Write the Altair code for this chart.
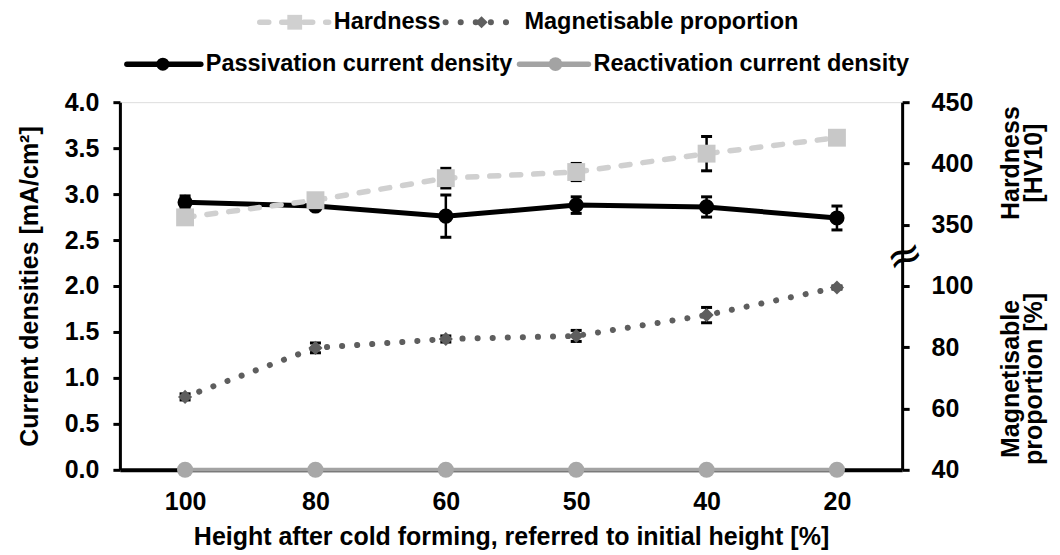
import altair as alt
import pandas as pd

# ---- data ----
categories = ["100", "80", "60", "50", "40", "20"]
passivation = [2.91, 2.87, 2.76, 2.88, 2.86, 2.74]
passivation_err = [0.07, 0.03, 0.23, 0.09, 0.11, 0.13]
reactivation = [0.0, 0.0, 0.0, 0.0, 0.0, 0.0]
hardness = [356, 370, 388, 393, 408, 421]
hardness_err = [3, 3, 8, 7, 14, 2]
magnetisable = [63.8, 79.8, 82.7, 83.7, 90.5, 99.5]
magnetisable_err = [1.0, 1.6, 1.0, 1.8, 2.5, 0.5]

# right-axis tick labels
right_ticks = [40, 60, 80, 100, 350, 400, 450]

FONT = "Liberation Sans"
FS = 25      # axis text size
LFS = 23.5   # legend text size

df = pd.DataFrame({
    "cat": categories,
    "pass": passivation,
    "pass_err": passivation_err,
    "react": reactivation,
    "hard": hardness,
    "hard_err": hardness_err,
    "mag": magnetisable,
    "mag_err": magnetisable_err,
})


def hard_map(h):
    return (h - 150) / 75.0


def mag_map(m):
    return (m - 40) / 30.0


df["pass_lo"] = df["pass"] - df["pass_err"]
df["pass_hi"] = df["pass"] + df["pass_err"]
df["hard_y"] = hard_map(df["hard"])
df["hard_lo"] = hard_map(df["hard"] - df["hard_err"])
df["hard_hi"] = hard_map(df["hard"] + df["hard_err"])
df["mag_y"] = mag_map(df["mag"])
df["mag_lo"] = mag_map(df["mag"] - df["mag_err"])
df["mag_hi"] = mag_map(df["mag"] + df["mag_err"])

right_vals = [mag_map(v) if v <= 100 else hard_map(v) for v in right_ticks]

yscale = alt.Scale(domain=[0, 4], nice=False, zero=False)
left_axis = alt.Axis(
    values=[0, 0.5, 1, 1.5, 2, 2.5, 3, 3.5, 4], format=".1f",
    tickSize=7, tickWidth=3, tickColor="black",
    domainColor="black", domainWidth=3,
    labelFont=FONT, labelFontSize=FS, labelFontWeight="bold", labelColor="black",
    labelPadding=14,
    title="Current densities [mA/cm²]", titleFont=FONT, titleFontSize=FS,
    titleFontWeight="bold", titleColor="black", titlePadding=22, grid=False,
)
x_axis = alt.Axis(
    labelAngle=0, ticks=False, domainColor="black", domainWidth=4,
    labelFont=FONT, labelFontSize=FS, labelFontWeight="bold", labelColor="black",
    labelPadding=20,
    title="Height after cold forming, referred to initial height [%]",
    titleFont=FONT, titleFontSize=FS, titleFontWeight="bold", titleColor="black",
    titlePadding=10,
)
X = alt.X("cat:N", sort=categories, scale=alt.Scale(type="point", padding=0.5), axis=x_axis)


def Y(field):
    return alt.Y(field + ":Q", scale=yscale, axis=left_axis)


base = alt.Chart(df)

react_line = base.mark_line(color="#A3A3A3", strokeWidth=4).encode(x=X, y=Y("react"))
pass_line = base.mark_line(color="black", strokeWidth=5).encode(x=X, y=Y("pass"))
mag_line = base.mark_line(color="#5E5E5E", strokeWidth=6, strokeDash=[0.1, 15],
                          strokeCap="round").encode(x=X, y=Y("mag_y"))
hard_line = base.mark_line(color="#D0D0D0", strokeWidth=5.5, strokeDash=[9, 13],
                           strokeCap="round").encode(x=X, y=Y("hard_y"))


def errbars(lo, hi):
    rule = base.mark_rule(color="black", strokeWidth=2.5).encode(x=X, y=Y(lo), y2=hi)
    t1 = base.mark_tick(color="black", thickness=3, size=11, orient="horizontal",
                        opacity=1).encode(x=X, y=Y(lo))
    t2 = base.mark_tick(color="black", thickness=3, size=11, orient="horizontal",
                        opacity=1).encode(x=X, y=Y(hi))
    return [rule, t1, t2]


err_layers = errbars("pass_lo", "pass_hi") + errbars("mag_lo", "mag_hi") + errbars("hard_lo", "hard_hi")

react_pts = base.mark_point(shape="circle", filled=True, size=260, color="#A8A8A8",
                            opacity=1).encode(x=X, y=Y("react"))
pass_pts = base.mark_point(shape="circle", filled=True, size=230, color="black",
                           opacity=1).encode(x=X, y=Y("pass"))
mag_pts = base.mark_point(shape="diamond", filled=True, size=200, color="#5E5E5E",
                          opacity=1).encode(x=X, y=Y("mag_y"))
hard_pts = base.mark_point(shape="square", filled=True, size=320, color="#C8C8C8",
                           opacity=1).encode(x=X, y=Y("hard_y"))

# ---- manual legend (two centred rows above the plot) ----
one = pd.DataFrame({"k": [0]})
leg = alt.Chart(one)
legend_layers = []


def legend_item(x0, x1, xm, y, color, width, dash, shape, size, label):
    rule_kw = dict(color=color, strokeWidth=width, strokeCap="round")
    if dash:
        rule_kw["strokeDash"] = dash
    legend_layers.append(leg.mark_rule(**rule_kw).encode(
        x=alt.value(x0), x2=alt.value(x1), y=alt.value(y)))
    legend_layers.append(leg.mark_point(shape=shape, filled=True, size=size, color=color,
                                        opacity=1).encode(x=alt.value(xm), y=alt.value(y)))
    legend_layers.append(leg.mark_text(align="left", baseline="middle", font=FONT,
                                       fontSize=LFS, fontWeight="bold", color="black").encode(
        x=alt.value(x1 + 5), y=alt.value(y), text=alt.value(label)))


legend_item(140, 209, 175, -80, "#D0D0D0", 5.5, [9, 13], "square", 220, "Hardness")
legend_item(326, 400, 362, -80, "#5E5E5E", 6, [0.1, 15], "diamond", 150, "Magnetisable proportion")
legend_item(7, 81, 43, -38, "black", 5.5, None, "circle", 170, "Passivation current density")
legend_item(400, 469, 436, -38, "#A3A3A3", 5.5, None, "circle", 190, "Reactivation current density")

# right-hand titles (two lines each) and axis-break symbol
right_titles = []
for (xv, yv, txt) in [(892, 61, "Hardness"), (915, 61, "[HV10]"),
                      (892, 277, "Magnetisable"), (915, 277, "proportion [%]")]:
    right_titles.append(leg.mark_text(angle=270, align="center", baseline="middle", font=FONT,
                                      fontSize=FS, fontWeight="bold", color="black").encode(
        x=alt.value(xv), y=alt.value(yv), text=alt.value(txt)))
break_sym = leg.mark_text(align="center", baseline="middle", fontSize=44, angle=340,
                          color="black", font="DejaVu Sans").encode(
    x=alt.value(786), y=alt.value(155), text=alt.value("≈"))

main = alt.layer(
    react_line, pass_line, mag_line, hard_line,
    *err_layers,
    react_pts, pass_pts, mag_pts, hard_pts,
    *legend_layers, *right_titles, break_sym,
)

right_axis = alt.Chart(one).mark_point(opacity=0).encode(
    y=alt.Y("k:Q", scale=yscale, axis=alt.Axis(
        orient="right", values=right_vals,
        labelExpr="datum.value < 2.3 ? format(round(40 + datum.value*30), 'd') : format(round(150 + datum.value*75), 'd')",
        tickSize=7, tickWidth=3, tickColor="black", domainColor="black", domainWidth=3,
        labelFont=FONT, labelFontSize=FS, labelFontWeight="bold", labelColor="black",
        labelPadding=22, title=None, grid=False)))

chart = alt.layer(main, right_axis).resolve_scale(y="independent").properties(
    width=783, height=368,
    autosize=alt.AutoSizeParams(type="none"),
    padding={"left": 112, "top": 94, "right": 150, "bottom": 83},
).configure_view(stroke="black", strokeWidth=3).configure(background="white")

chart.save("out.html", embed_options={"renderer": "svg", "actions": False})
